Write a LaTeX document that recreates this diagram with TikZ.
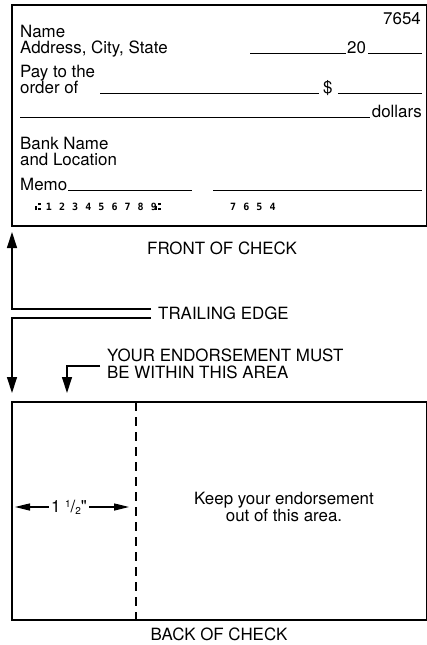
\documentclass[tikz,border=0pt]{standalone}
\usepackage{fontspec}
\setmainfont{TeX Gyre Heros}
\newfontfamily\micr[LetterSpace=71]{DejaVu Sans Mono}
\usetikzlibrary{arrows.meta}
% MICR transit symbol (U+2446), drawn as a shape: no installed family has it
\newcommand\mtransit{\rule{1.7pt}{4.4pt}\hspace{1.5pt}\rlap{\rule[4.6pt]{2.5pt}{2.5pt}}\rule{2.5pt}{2.5pt}}
\begin{document}
\begin{tikzpicture}[x=1pt,y=-1pt,
  lbl/.style={inner sep=0pt, font=\fontsize{16.9}{18}\selectfont},
  micrtext/.style={inner sep=0pt, anchor=base west, font=\micr\bfseries\fontsize{10}{11}\selectfont},
  rule/.style={line width=1.3pt},
  frame/.style={line width=1.5pt},
  tip/.style={-{Triangle[length=16pt,width=10pt]}, line width=1.3pt},
  dimtip/.style={-{Triangle[length=15pt,width=7pt]}, line width=1.3pt},
  cutline/.style={line width=1.4pt, dash pattern=on 9pt off 6pt}]
\useasboundingbox (0,0) rectangle (427,645);
% ---- front of check ----
\draw[frame] (12,5) rectangle (427,226);
\node[lbl,anchor=base east] (num) at (421,24) {7654};
\node[lbl,anchor=base west] (name) at (20,37) {Name};
\node[lbl,anchor=base west] (addr) at (20,53) {Address, City, State};
\coordinate (d1) at (250,53.5);
\node[lbl,anchor=base west] (yr) at (347,53) {20};
\coordinate (d2) at (422,53.5);
\draw[rule] (d1) -- ([xshift=-1pt,yshift=-0.5pt]yr.base west);
\draw[rule] ([xshift=2pt,yshift=-0.5pt]yr.base east) -- (d2);
\node[lbl,anchor=base west] (pay) at (20,77) {Pay to the};
\node[lbl,anchor=base west] (ord) at (20,93) {order of};
\coordinate (p1) at (100,93.5);
\node[lbl,anchor=base west] (dol) at (323,93) {\$};
\coordinate (p2) at (422,93.5);
\draw[rule] (p1) -- ([xshift=-4pt,yshift=-0.5pt]dol.base west);
\draw[rule] ([xshift=5pt,yshift=-0.5pt]dol.base east) -- (p2);
\coordinate (w1) at (20,117.5);
\node[lbl,anchor=base east] (dollars) at (422,117) {dollars};
\draw[rule] (w1) -- ([xshift=-2pt,yshift=-0.5pt]dollars.base west);
\node[lbl,anchor=base west] (bank) at (20,149) {Bank Name};
\node[lbl,anchor=base west] (loc) at (20,165) {and Location};
\node[lbl,anchor=base west] (memo) at (20,190) {Memo};
\coordinate (m1) at (192,190.5);
\draw[rule] ([xshift=1pt,yshift=-0.5pt]memo.base east) -- (m1);
\coordinate (s1) at (213,190.5);
\coordinate (s2) at (422,190.5);
\draw[rule] (s1) -- (s2);
\node[micrtext] (micr) at (35,210) {\mtransit\hspace{5pt}123456789\hspace{-2pt}\mtransit};
\node[micrtext] (micr2) at (230,210) {7654};
\node[lbl,anchor=base] (front) at (222,254) {FRONT OF CHECK};
% ---- trailing edge ----
\node[lbl,anchor=west] (trail) at (158,313.5) {TRAILING EDGE};
\coordinate (t1) at (151,309);
\coordinate (c1) at (12,309);
\coordinate (up) at (12,232);
\draw[tip] (t1) -- (c1) -- (up);
\coordinate (t2) at (151,318);
\coordinate (c2) at (12,318);
\coordinate (down) at (12,393);
\draw[tip] (t2) -- (c2) -- (down);
% ---- endorsement note ----
\node[lbl,anchor=base west] (e1) at (107,361.5) {YOUR ENDORSEMENT MUST};
\node[lbl,anchor=base west] (e2) at (107,378.5) {BE WITHIN THIS AREA};
\coordinate (n1) at (100,366);
\coordinate (n2) at (67,366);
\coordinate (n3) at (67,393);
\draw[tip] (n1) -- (n2) -- (n3);
% ---- back of check ----
\draw[frame] (12,402) rectangle (427,620);
\coordinate (cut1) at (136,402);
\coordinate (cut2) at (136,620);
\draw[cutline] (cut1) -- (cut2);
\node[lbl] (dim) at (69,507) {1 \raisebox{0.5ex}{\fontsize{10}{11}\selectfont 1}/\raisebox{-0.2ex}{\fontsize{10}{11}\selectfont 2}\textquotedbl};
\coordinate (a1) at (15,507);
\coordinate (a2) at (129,507);
\draw[dimtip] ([xshift=-2pt]dim.west) -- (a1);
\draw[dimtip] ([xshift=2pt]dim.east) -- (a2);
\node[lbl,anchor=base] (keep1) at (284,504) {Keep your endorsement};
\node[lbl,anchor=base] (keep2) at (284,521) {out of this area.};
\node[lbl,anchor=base] (back) at (219,640) {BACK OF CHECK};
\end{tikzpicture}
\end{document}
